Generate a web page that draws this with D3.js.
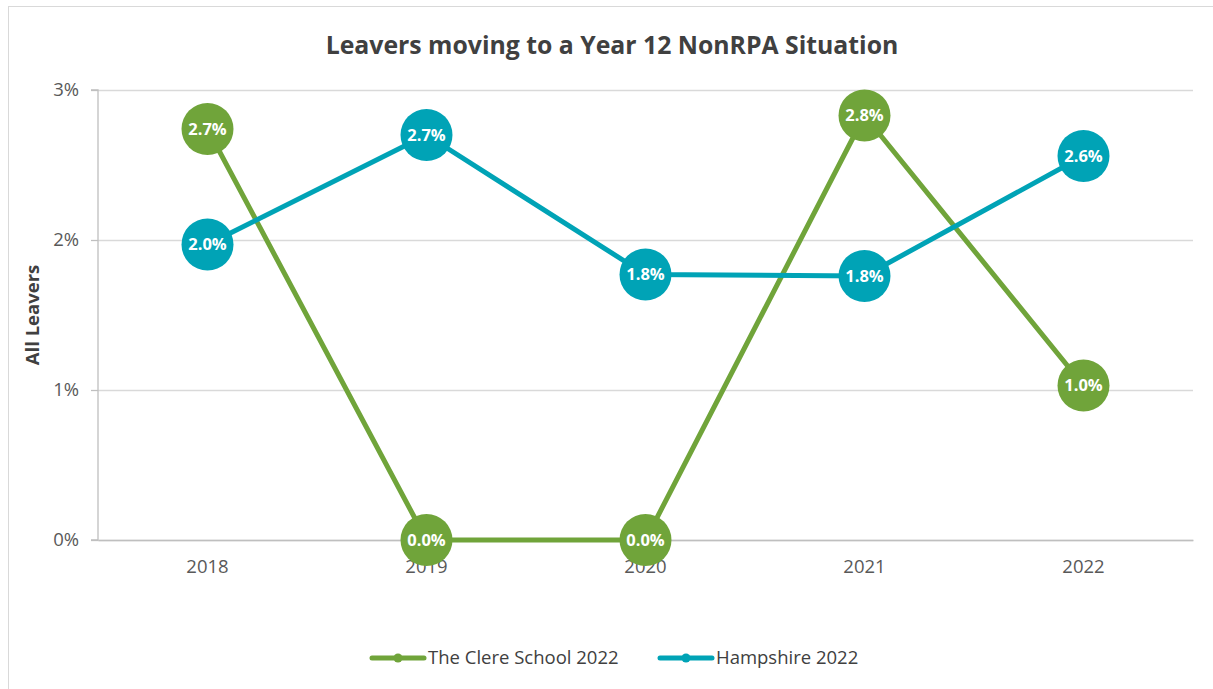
<!DOCTYPE html>
<html>
<head>
<meta charset="utf-8">
<script src="https://cdn.jsdelivr.net/npm/d3@7"></script>
<style>
  body { margin: 0; background: #fff; }
  svg { display: block; font-family: "Open Sans", "Noto Sans", sans-serif; }
</style>
</head>
<body>
<div id="chart"></div>
<script>
const years = ['2018', '2019', '2020', '2021', '2022'];
const clereValues = [0.0274, 0.0, 0.0, 0.0283, 0.0103];
const hampshireValues = [0.0197, 0.0270, 0.0177, 0.0176, 0.0256];
const seriesNames = ['The Clere School 2022', 'Hampshire 2022'];
const seriesColors = ['#70a43a', '#00a3b6'];
const yTicks = [0, 0.01, 0.02, 0.03];

const width = 1213;
const height = 689;
const margin = { top: 90, right: 20, bottom: 149, left: 98 };
const innerW = 1193 - margin.left;
const innerH = 540 - margin.top;

const svg = d3.select('#chart').append('svg')
  .attr('width', width)
  .attr('height', height);

// chart border
svg.append('rect')
  .attr('x', 8.5).attr('y', 6.5)
  .attr('width', 1220).attr('height', 700)
  .attr('fill', '#fff')
  .attr('stroke', '#d9d9d9');

svg.append('text')
  .attr('x', 612).attr('y', 54)
  .attr('text-anchor', 'middle')
  .attr('font-size', 24.8)
  .attr('font-weight', 'bold')
  .attr('fill', '#404040')
  .text('Leavers moving to a Year 12 NonRPA Situation');

const g = svg.append('g').attr('transform', `translate(${margin.left},${margin.top})`);

const x = d3.scaleBand().domain(years).range([0, innerW]);
const y = d3.scaleLinear().domain([0, 0.03]).range([innerH, 0]);

// gridlines
g.append('g')
  .call(d3.axisLeft(y).tickValues(yTicks).tickSize(-innerW).tickFormat(''))
  .call(a => a.select('.domain').remove())
  .selectAll('line').attr('stroke', '#d9d9d9').attr('stroke-width', 1.3);

// y axis
const yAxis = g.append('g')
  .call(d3.axisLeft(y).tickValues(yTicks).tickSize(7).tickPadding(12).tickFormat(d3.format('.0%')));
yAxis.select('.domain').attr('stroke', '#bfbfbf').attr('stroke-width', 1.3).attr('d', `M-7,${innerH}H0V0H-7`);
yAxis.selectAll('line').attr('stroke', '#bfbfbf').attr('stroke-width', 1.3);
yAxis.selectAll('text').attr('font-size', 18.5).attr('fill', '#595959').attr('font-family', '"Open Sans", sans-serif');

// x axis
const xAxis = g.append('g')
  .attr('transform', `translate(0,${innerH})`)
  .call(d3.axisBottom(x).tickSize(0).tickPadding(20));
xAxis.select('.domain').attr('stroke', '#bfbfbf').attr('stroke-width', 1.3);
xAxis.selectAll('text').attr('font-size', 18.5).attr('fill', '#595959').attr('font-family', '"Open Sans", sans-serif');

svg.append('text')
  .attr('transform', 'translate(39,315) rotate(-90)')
  .attr('text-anchor', 'middle')
  .attr('font-size', 18.5)
  .attr('font-weight', 'bold')
  .attr('fill', '#404040')
  .text('All Leavers');

const series = [clereValues, hampshireValues].map((vals, i) => ({
  name: seriesNames[i],
  color: seriesColors[i],
  points: vals.map((v, j) => ({ year: years[j], value: v }))
}));

const line = d3.line()
  .x(d => x(d.year) + x.bandwidth() / 2)
  .y(d => y(d.value));

series.forEach(s => {
  g.append('path')
    .attr('d', line(s.points))
    .attr('fill', 'none')
    .attr('stroke', s.color)
    .attr('stroke-width', 5)
    .attr('stroke-linejoin', 'round');
});

series.forEach(s => {
  const pts = g.append('g').selectAll('g').data(s.points).join('g')
    .attr('transform', d => `translate(${x(d.year) + x.bandwidth() / 2},${y(d.value)})`);
  pts.append('circle').attr('r', 26).attr('fill', s.color);
  pts.append('text')
    .attr('text-anchor', 'middle')
    .attr('dy', '0.36em')
    .attr('font-size', 16.5)
    .attr('font-weight', 'bold')
    .attr('fill', '#fff')
    .text(d => d3.format('.1%')(d.value));
});

// legend
const legendX = [372, 660];
const legend = svg.append('g').selectAll('g').data(series).join('g')
  .attr('transform', (d, i) => `translate(${legendX[i]},658)`);
legend.append('line')
  .attr('x1', 0).attr('x2', 52)
  .attr('stroke', d => d.color).attr('stroke-width', 5).attr('stroke-linecap', 'round');
legend.append('circle').attr('cx', 26).attr('r', 4.5).attr('fill', d => d.color);
legend.append('text')
  .attr('x', 56).attr('dy', '0.35em')
  .attr('font-size', 18.5).attr('fill', '#404040')
  .text(d => d.name);
</script>
</body>
</html>
